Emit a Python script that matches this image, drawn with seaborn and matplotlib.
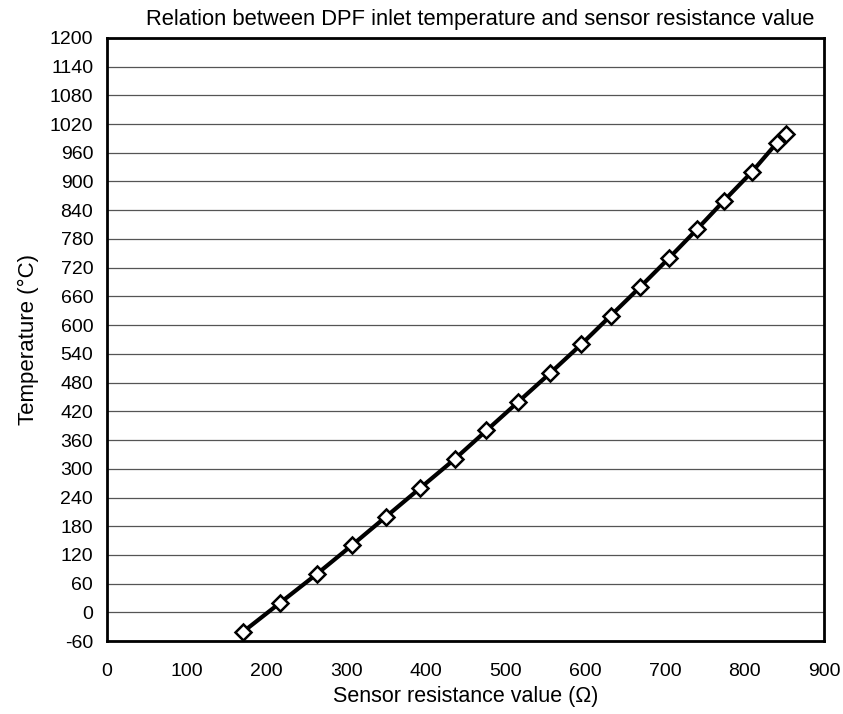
import numpy as np
import pandas as pd
import seaborn as sns
import matplotlib.pyplot as plt

# -------------------------------------------------------------------
# Data
# -------------------------------------------------------------------
resistance = [171, 217, 263, 307, 350, 393, 436, 476, 516, 556,
              595, 632, 669, 705, 740, 774, 809, 840, 852]
temperature = [-40, 20, 80, 140, 200, 260, 320, 380, 440, 500,
               560, 620, 680, 740, 800, 860, 920, 980, 1000]

df = pd.DataFrame({"resistance": resistance, "temperature": temperature})

# -------------------------------------------------------------------
# Plot
# -------------------------------------------------------------------
sns.set_style("white")
plt.rcParams["font.family"] = ["Liberation Sans", "DejaVu Sans"]
plt.rcParams["axes.unicode_minus"] = False
plt.rcParams["text.color"] = "black"
plt.rcParams["axes.labelcolor"] = "black"
plt.rcParams["xtick.color"] = "black"
plt.rcParams["ytick.color"] = "black"

fig = plt.figure(figsize=(8.43, 7.14), dpi=100)
ax = fig.add_axes([0.127, 0.102, 0.851, 0.845])

ax.set_axisbelow(True)
ax.yaxis.grid(True, color="#555555", linewidth=0.9)

sns.lineplot(data=df, x="resistance", y="temperature", ax=ax,
             color="black", linewidth=3, marker="D", markersize=8,
             markerfacecolor="white", markeredgecolor="black",
             markeredgewidth=1.8, zorder=3)

ax.set_xlim(0, 900)
ax.set_ylim(-60, 1200)
ax.set_xticks(np.arange(0, 901, 100))
ax.set_yticks(np.arange(-60, 1201, 60))
ax.tick_params(axis="both", direction="in", length=5, width=1.2,
               labelsize=14)
ax.tick_params(axis="x", pad=16)
ax.tick_params(axis="y", pad=10)

for s in ax.spines.values():
    s.set_color("black")
    s.set_linewidth(2)

ax.set_title("Relation between DPF inlet temperature and sensor resistance value",
             fontsize=15.8, pad=9, x=0.52)
ax.set_xlabel("Sensor resistance value (\u03a9)", fontsize=15.5, labelpad=4)
ax.set_ylabel("Temperature (\u00b0C)", fontsize=16, labelpad=8)

plt.savefig("out.png", dpi=100)
